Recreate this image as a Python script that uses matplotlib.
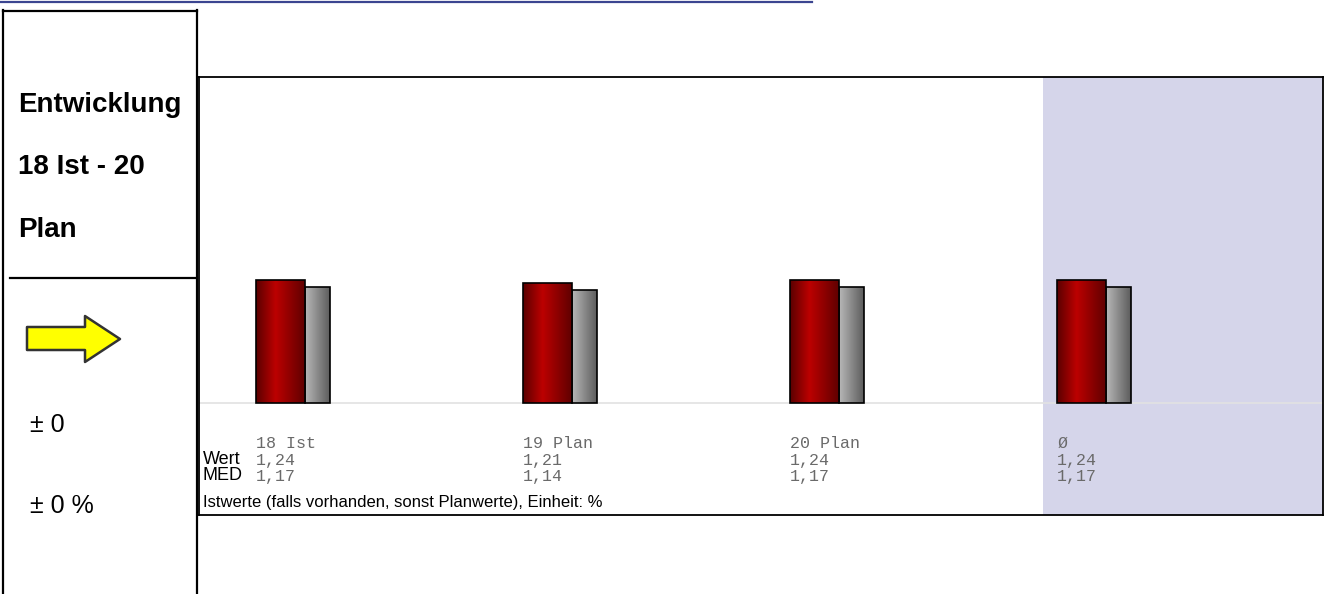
import numpy as np
import matplotlib
matplotlib.use("Agg")
import matplotlib.pyplot as plt
from matplotlib.patches import Polygon
from matplotlib.colors import LinearSegmentedColormap

# data
categories = ["18 Ist", "19 Plan", "20 Plan", "Ø"]
wert = [1.24, 1.21, 1.24, 1.24]
med = [1.17, 1.14, 1.17, 1.17]
row_labels = ["Wert", "MED"]
title_lines = ["Entwicklung", "18 Ist - 20", "Plan"]
delta_abs = "± 0"
delta_pct = "± 0 %"
footer = "Istwerte (falls vorhanden, sonst Planwerte), Einheit: %"

W, H = 1327, 594
fig = plt.figure(figsize=(W / 100, H / 100), dpi=100)
fig.patch.set_facecolor("white")

# chart box in pixels
bx0, bx1, by_top, by_bot, base = 199, 1323, 77, 515, 403
px_unit = 99.2   # pixels per value unit
px_group = 267.0  # pixels per group

ax = fig.add_axes([bx0 / W, 1 - by_bot / H, (bx1 - bx0) / W, (by_bot - by_top) / H])
ax.set_facecolor("white")
xmin = -(256 - bx0) / px_group
xmax = xmin + (bx1 - bx0) / px_group
ymin = -(by_bot - base) / px_unit
ymax = (base - by_top) / px_unit

x = np.arange(len(categories))
w_red = 49 / px_group
w_grey = 25 / px_group

# shaded average column
ax.axvspan(x[-1] - 14 / px_group, xmax, color="#d5d5ea", zorder=0, lw=0)
ax.axhline(0, color="#e2e2e2", lw=1.2, zorder=1)

red_cmap = LinearSegmentedColormap.from_list(
    "red", [(0, "#5a0000"), (0.4, "#bc0000"), (1, "#600000")])
grey_cmap = LinearSegmentedColormap.from_list(
    "grey", [(0, "#b8b8b8"), (1, "#5c5c5c")])
grad = np.linspace(0, 1, 256).reshape(1, -1)

bars_grey = ax.bar(x + w_red, med, width=w_grey, align="edge",
                   facecolor="none", edgecolor="black", lw=1.2, zorder=3)
bars_red = ax.bar(x, wert, width=w_red, align="edge",
                  facecolor="none", edgecolor="black", lw=1.2, zorder=5)
for bars, cmap, z in [(bars_grey, grey_cmap, 2), (bars_red, red_cmap, 4)]:
    for p in bars:
        x0, y0 = p.get_x(), p.get_y()
        im = ax.imshow(grad, extent=[x0, x0 + p.get_width(), y0, y0 + p.get_height()],
                       aspect="auto", cmap=cmap, zorder=z, interpolation="bilinear")
        im.set_clip_path(p)

ax.set_xlim(xmin, xmax)
ax.set_ylim(ymin, ymax)
ax.set_xticks([])
ax.set_yticks([])
for s in ax.spines.values():
    s.set_linewidth(1.3)
    s.set_color("black")

mono = dict(family="Liberation Mono", fontsize=12, color="#6a6a6a", va="center", ha="left")
for i, cat in enumerate(categories):
    ax.annotate(cat, xy=(x[i], 0), xytext=(0, -40), textcoords="offset pixels", **mono)
    ax.annotate(f"{wert[i]:.2f}".replace(".", ","), xy=(x[i], 0), xytext=(0, -57),
                textcoords="offset pixels", **mono)
    ax.annotate(f"{med[i]:.2f}".replace(".", ","), xy=(x[i], 0), xytext=(0, -73),
                textcoords="offset pixels", **mono)

# overlay in pixel coordinates
ov = fig.add_axes([0, 0, 1, 1], zorder=10)
ov.set_xlim(0, W)
ov.set_ylim(H, 0)
ov.axis("off")

ov.plot([0, 812], [2, 2], color="#3b4590", lw=1.6)
ov.plot([3, 197], [11, 11], color="black", lw=1.6)
ov.plot([3, 3], [10, H], color="black", lw=1.6)
ov.plot([197, 197], [10, H], color="black", lw=1.6)
ov.plot([10, 197], [278, 278], color="black", lw=1.6)

sans = "Liberation Sans"
for t, yy in zip(title_lines, [105, 167, 230]):
    ov.text(18, yy, t, fontsize=20, fontweight="bold", family=sans, va="center", ha="left")

arrow = Polygon([(27, 327), (85, 327), (85, 316), (120, 339), (85, 362), (85, 350), (27, 350)],
                closed=True, facecolor="#ffff00", edgecolor="#333333", lw=1.8, joinstyle="round")
ov.add_patch(arrow)

ov.text(30, 425, delta_abs, fontsize=18, family=sans, va="center", ha="left")
ov.text(30, 506, delta_pct, fontsize=18, family=sans, va="center", ha="left")

ov.text(203, 460, row_labels[0], fontsize=13, family=sans, va="center", ha="left")
ov.text(203, 476, row_labels[1], fontsize=13, family=sans, va="center", ha="left")
ov.text(203, 503, footer, fontsize=12, family=sans, va="center", ha="left")

fig.savefig("out.png", dpi=100)
